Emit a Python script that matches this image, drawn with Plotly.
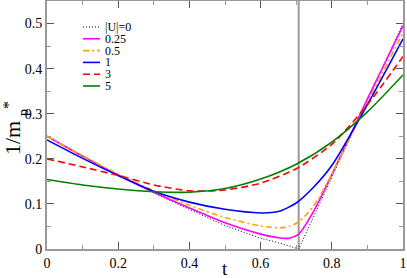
import plotly.graph_objects as go

# ---- data ----
t_u0 = [0, 0.1, 0.2, 0.3, 0.4, 0.5, 0.6, 0.65, 0.707, 1.0]
v_u0 = [0.25, 0.205, 0.163, 0.124, 0.088, 0.052, 0.024, 0.014, 0.0, 0.5]

t_025 = [0, 0.1, 0.2, 0.3, 0.4, 0.5, 0.6, 0.65, 0.68, 0.707, 0.75, 0.8, 0.9, 1.0]
v_025 = [0.25, 0.206, 0.164, 0.126, 0.091, 0.058, 0.033, 0.025, 0.024, 0.033, 0.085, 0.165, 0.333, 0.495]

t_05 = [0, 0.1, 0.2, 0.3, 0.4, 0.5, 0.6, 0.65, 0.68, 0.707, 0.75, 0.8, 0.9, 1.0]
v_05 = [0.25, 0.207, 0.166, 0.129, 0.097, 0.07, 0.051, 0.047, 0.05, 0.06, 0.097, 0.166, 0.325, 0.479]

t_1 = [0, 0.1, 0.2, 0.3, 0.4, 0.5, 0.6, 0.65, 0.7, 0.75, 0.8, 0.9, 1.0]
v_1 = [0.242, 0.201, 0.163, 0.128, 0.104, 0.088, 0.08, 0.083, 0.102, 0.138, 0.185, 0.32, 0.466]

t_3 = [0, 0.1, 0.2, 0.3, 0.4, 0.5, 0.6, 0.7, 0.8, 0.9, 1.0]
v_3 = [0.2, 0.182, 0.163, 0.142, 0.129, 0.131, 0.146, 0.178, 0.232, 0.32, 0.427]

t_5 = [0, 0.1, 0.2, 0.3, 0.4, 0.5, 0.6, 0.7, 0.8, 0.9, 1.0]
v_5 = [0.154, 0.142, 0.133, 0.127, 0.126, 0.134, 0.155, 0.188, 0.237, 0.304, 0.386]

t_c = 0.707  # vertical marker

labels = ["|U|=0", "0.25", "0.5", "1", "3", "5"]
colors = ["black", "#ff00ff", "#ffa500", "#0000ff", "#ff0000", "#008000"]
dashes = ["1px,2px", "solid", "6px,3px,2px,3px", "solid", "7px,4px", "solid"]
widths = [1.0, 1.6, 1.6, 1.6, 1.6, 1.6]
series = [(t_u0, v_u0), (t_025, v_025), (t_05, v_05), (t_1, v_1), (t_3, v_3), (t_5, v_5)]

FONT = "Liberation Serif"

fig = go.Figure()
for (tx, vy), name, c, d, w in zip(series, labels, colors, dashes, widths):
    shape = "linear" if name == "|U|=0" else "spline"
    fig.add_trace(go.Scatter(x=tx, y=vy, mode="lines", name=name, showlegend=False,
                             line=dict(color=c, dash=d, width=w, shape=shape, smoothing=0.7)))

# vertical line at t_c
fig.add_shape(type="line", xref="x", yref="paper", x0=t_c, x1=t_c, y0=0, y1=1,
              line=dict(color="#999999", width=2), layer="below")

# manual compact legend
L, T, W, H = 47, 1, 356, 248
def px(x):
    return (x - L) / W
def py(y):
    return (T + H - y) / H
for i, (name, c, d, w) in enumerate(zip(labels, colors, dashes, widths)):
    yy = 27 + i * 11.8
    fig.add_shape(type="line", xref="paper", yref="paper", x0=px(83), x1=px(100),
                  y0=py(yy), y1=py(yy), line=dict(color=c, dash=d, width=w))
    fig.add_annotation(xref="paper", yref="paper", x=px(104), y=py(yy), text=name,
                       showarrow=False, xanchor="left", yanchor="middle", borderpad=0,
                       font=dict(family=FONT, size=12, color="black"))

axis_common = dict(showline=True, linecolor="#999999", linewidth=2, mirror="ticks",
                   ticks="inside", ticklen=7, tickwidth=1, tickcolor="#555555",
                   showgrid=False, zeroline=False, automargin=False,
                   tickfont=dict(family=FONT, size=14, color="black"))

fig.update_xaxes(range=[0, 1], tickvals=[0, 0.2, 0.4, 0.6, 0.8, 1],
                 ticktext=["0", "0.2", "0.4", "0.6", "0.8", "1"],
                 minor=dict(ticks="inside", ticklen=4, dtick=0.1, tick0=0, tickcolor="#999999", showgrid=False),
                 **axis_common)
fig.update_yaxes(range=[0, 0.55], tickvals=[0, 0.1, 0.2, 0.3, 0.4, 0.5],
                 ticktext=["0", "0.1", "0.2", "0.3", "0.4", "0.5"],
                 minor=dict(ticks="inside", ticklen=4, dtick=0.05, tick0=0, tickcolor="#999999", showgrid=False),
                 **axis_common)

# axis titles
fig.add_annotation(xref="paper", yref="paper", x=px(225), y=py(268), text="t", showarrow=False,
                   xanchor="center", yanchor="middle", borderpad=0,
                   font=dict(family=FONT, size=19, color="black"))
fig.add_annotation(xref="paper", yref="paper", x=px(12), y=py(138), text="1/m", showarrow=False,
                   textangle=-90, xanchor="center", yanchor="middle", borderpad=0,
                   font=dict(family=FONT, size=22, color="black"))
fig.add_annotation(xref="paper", yref="paper", x=px(23), y=py(113), text="p", showarrow=False,
                   textangle=-90, xanchor="center", yanchor="middle", borderpad=0,
                   font=dict(family=FONT, size=14, color="black"))
fig.add_annotation(xref="paper", yref="paper", x=px(9), y=py(105), text="*", showarrow=False,
                   textangle=-90, xanchor="center", yanchor="middle", borderpad=0,
                   font=dict(family=FONT, size=16, color="black"))

fig.update_layout(width=407, height=278, margin=dict(l=47, r=4, t=1, b=29),
                  plot_bgcolor="white", paper_bgcolor="white")

fig.write_html("out.html", config={"displayModeBar": False},
               post_script="document.body.style.margin='0';document.body.style.padding='0';")
